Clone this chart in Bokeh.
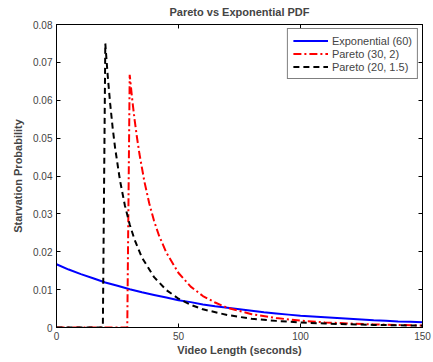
from bokeh.plotting import figure
from bokeh.models import LinearAxis, Range1d, Legend, LegendItem, FixedTicker
from bokeh.embed import file_html
from bokeh.resources import INLINE

# Exponential (60)
exp_x = [0, 5, 10, 15, 20, 25, 30, 35, 40, 45, 50, 55, 60, 65, 70, 75, 80, 85, 90, 95,
         100, 105, 110, 115, 120, 125, 130, 135, 140, 145, 150]
exp_y = [0.0167, 0.0153, 0.0141, 0.0130, 0.0119, 0.0110, 0.0101, 0.0093, 0.0086, 0.0079,
         0.0072, 0.0067, 0.0061, 0.0056, 0.0052, 0.0048, 0.0044, 0.0040, 0.0037, 0.0034,
         0.0031, 0.0029, 0.0027, 0.0025, 0.0023, 0.0021, 0.0019, 0.0018, 0.0016, 0.0015, 0.0014]

# Pareto (30, 2)
p1_x = [0, 29, 30, 31, 32, 33, 34, 36, 38, 40, 42, 45, 50, 55, 60, 65, 70, 80, 90,
        100, 110, 120, 130, 140, 150]
p1_y = [0.0, 0.0, 0.0667, 0.0604, 0.0549, 0.0501, 0.0458, 0.0386, 0.0328, 0.0281, 0.0243,
        0.0198, 0.0144, 0.0108, 0.0083, 0.0066, 0.0052, 0.0035, 0.0025,
        0.0018, 0.00135, 0.00104, 0.00082, 0.00066, 0.00053]

# Pareto (20, 1.5)
p2_x = [0, 19, 20, 21, 22, 23, 24, 26, 28, 30, 32, 35, 40, 45, 50, 55, 60, 70, 80, 90,
        100, 110, 120, 130, 140, 150]
p2_y = [0.0, 0.0, 0.0750, 0.0664, 0.0591, 0.0528, 0.0475, 0.0389, 0.0323, 0.0272, 0.0232,
        0.0185, 0.0133, 0.0099, 0.0076, 0.0060, 0.0048, 0.0033, 0.0023, 0.00175,
        0.00134, 0.00105, 0.00085, 0.00069, 0.00058, 0.00049]

x_ticks = [0, 50, 100, 150]
y_ticks = [0, 0.01, 0.02, 0.03, 0.04, 0.05, 0.06, 0.07, 0.08]

FONT = "Liberation Sans"

p = figure(width=433, height=362, output_backend="svg", toolbar_location=None,
           x_range=Range1d(0, 150), y_range=Range1d(0, 0.08),
           title="Pareto vs Exponential PDF",
           min_border_left=56, min_border_right=11, min_border_top=24, min_border_bottom=35)
p.title.align = "center"
p.title.text_font = FONT
p.title.text_font_size = "11px"
p.title.text_font_style = "bold"
p.title.offset = 21
p.title.vertical_align = "top"
p.grid.visible = False
p.outline_line_color = "black"
p.outline_line_width = 1

for ax in (p.xaxis[0], p.yaxis[0]):
    ax.major_tick_in = 4
    ax.major_tick_out = 0
    ax.minor_tick_in = 0
    ax.minor_tick_out = 0
    ax.major_label_text_font = FONT
    ax.major_label_text_font_size = "10px"
    ax.axis_label_text_font = FONT
    ax.axis_label_text_font_size = "11px"
    ax.axis_label_text_font_style = "bold"
    ax.axis_line_color = "black"
p.xaxis[0].ticker = FixedTicker(ticks=x_ticks)
p.yaxis[0].ticker = FixedTicker(ticks=y_ticks)
p.xaxis[0].axis_label = "Video Length (seconds)"
p.yaxis[0].axis_label = "Starvation Probability"
p.xaxis[0].major_label_standoff = 4
p.xaxis[0].axis_label_standoff = 1
p.yaxis[0].major_label_standoff = 4
p.yaxis[0].axis_label_standoff = 6

top = LinearAxis(ticker=FixedTicker(ticks=x_ticks), major_tick_in=4, major_tick_out=0,
                 minor_tick_in=0, minor_tick_out=0, major_label_text_font_size="1px",
                 major_label_text_color=None, major_label_standoff=0)
right = LinearAxis(ticker=FixedTicker(ticks=y_ticks), major_tick_in=4, major_tick_out=0,
                   minor_tick_in=0, minor_tick_out=0, major_label_text_font_size="1px",
                   major_label_text_color=None, major_label_standoff=0)
p.add_layout(top, "above")
p.add_layout(right, "right")

r1 = p.line(exp_x, exp_y, line_color="#0000ff", line_width=2)
r2 = p.line(p1_x, p1_y, line_color="#ff0000", line_width=2, line_dash="8 3 2 3")
r3 = p.line(p2_x, p2_y, line_color="black", line_width=2, line_dash="6 4")

legend = Legend(items=[LegendItem(label="Exponential (60)", renderers=[r1]),
                       LegendItem(label="Pareto (30, 2)", renderers=[r2]),
                       LegendItem(label="Pareto (20, 1.5)", renderers=[r3])],
                location="top_right", label_text_font=FONT, label_text_font_size="11px",
                border_line_color="black", border_line_width=1, glyph_width=35,
                glyph_height=13, label_height=13, spacing=0, padding=5, margin=4,
                label_standoff=4)
p.add_layout(legend)

open("out.html", "w").write(file_html(p, INLINE))
